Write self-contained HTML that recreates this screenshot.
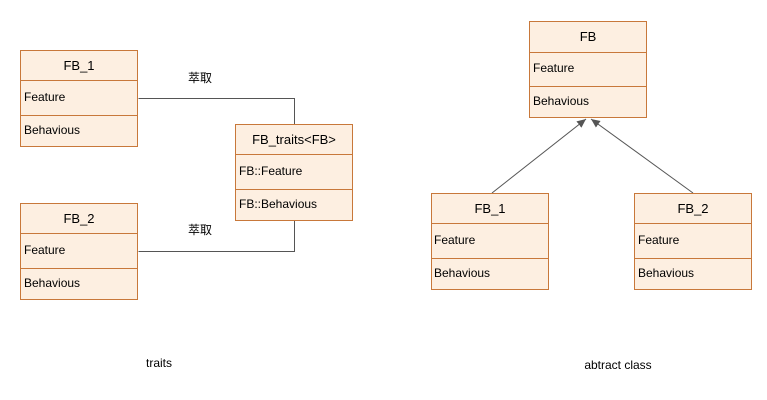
<!DOCTYPE html>
<html><head><meta charset="utf-8"><style>
html,body{margin:0;padding:0;background:#fff;}
svg{display:block;}
text{font-family:"Liberation Sans","Noto Sans CJK SC",sans-serif;font-size:12px;fill:#000;}
text.t{font-size:13px;}
.b{fill:#fdefe1;stroke:#c8783a;stroke-width:1;}
.d{stroke:#c8783a;stroke-width:1;}
.l{stroke:#555;stroke-width:1;fill:none;}
</style></head><body>
<svg width="767" height="400" viewBox="0 0 767 400" xmlns="http://www.w3.org/2000/svg">
<defs>
<marker id="ar" markerWidth="10" markerHeight="10" refX="9" refY="4" orient="auto" markerUnits="userSpaceOnUse">
<path d="M0,0 L9,4 L0,8 Z" fill="#555"/>
</marker>
</defs>
<polyline class="l" points="138.5,98.5 294.5,98.5 294.5,124"/>
<polyline class="l" points="138.5,251.5 294.5,251.5 294.5,220"/>
<text x="200" y="82" text-anchor="middle">萃取</text>
<text x="200" y="234" text-anchor="middle">萃取</text>
<line class="l" x1="492" y1="193" x2="586" y2="119" marker-end="url(#ar)"/>
<line class="l" x1="693" y1="193" x2="591" y2="119" marker-end="url(#ar)"/>

<g>
<rect class="b" x="20.5" y="50.5" width="117" height="96"/>
<line class="d" x1="20" y1="80.5" x2="138" y2="80.5"/>
<line class="d" x1="20" y1="115.5" x2="138" y2="115.5"/>
<text class="t" x="79" y="70" text-anchor="middle">FB_1</text>
<text x="24" y="101">Feature</text>
<text x="24" y="134">Behavious</text>
</g>
<g>
<rect class="b" x="20.5" y="203.5" width="117" height="96"/>
<line class="d" x1="20" y1="233.5" x2="138" y2="233.5"/>
<line class="d" x1="20" y1="268.5" x2="138" y2="268.5"/>
<text class="t" x="79" y="223" text-anchor="middle">FB_2</text>
<text x="24" y="254">Feature</text>
<text x="24" y="287">Behavious</text>
</g>
<g>
<rect class="b" x="235.5" y="124.5" width="117" height="96"/>
<line class="d" x1="235" y1="154.5" x2="353" y2="154.5"/>
<line class="d" x1="235" y1="189.5" x2="353" y2="189.5"/>
<text class="t" x="294" y="144" text-anchor="middle">FB_traits&lt;FB&gt;</text>
<text x="239" y="175">FB::Feature</text>
<text x="239" y="208">FB::Behavious</text>
</g>

<g>
<rect class="b" x="529.5" y="21.5" width="117" height="96"/>
<line class="d" x1="529" y1="52.5" x2="647" y2="52.5"/>
<line class="d" x1="529" y1="86.5" x2="647" y2="86.5"/>
<text class="t" x="588" y="41" text-anchor="middle">FB</text>
<text x="533" y="72">Feature</text>
<text x="533" y="105">Behavious</text>
</g>
<g>
<rect class="b" x="431.5" y="193.5" width="117" height="96"/>
<line class="d" x1="431" y1="223.5" x2="549" y2="223.5"/>
<line class="d" x1="431" y1="258.5" x2="549" y2="258.5"/>
<text class="t" x="490" y="213" text-anchor="middle">FB_1</text>
<text x="434" y="244">Feature</text>
<text x="434" y="277">Behavious</text>
</g>
<g>
<rect class="b" x="634.5" y="193.5" width="117" height="96"/>
<line class="d" x1="634" y1="223.5" x2="752" y2="223.5"/>
<line class="d" x1="634" y1="258.5" x2="752" y2="258.5"/>
<text class="t" x="693" y="213" text-anchor="middle">FB_2</text>
<text x="638" y="244">Feature</text>
<text x="638" y="277">Behavious</text>
</g>

<text x="159" y="367" text-anchor="middle">traits</text>
<text x="618" y="369" text-anchor="middle">abtract class</text>
</svg>
</body></html>
